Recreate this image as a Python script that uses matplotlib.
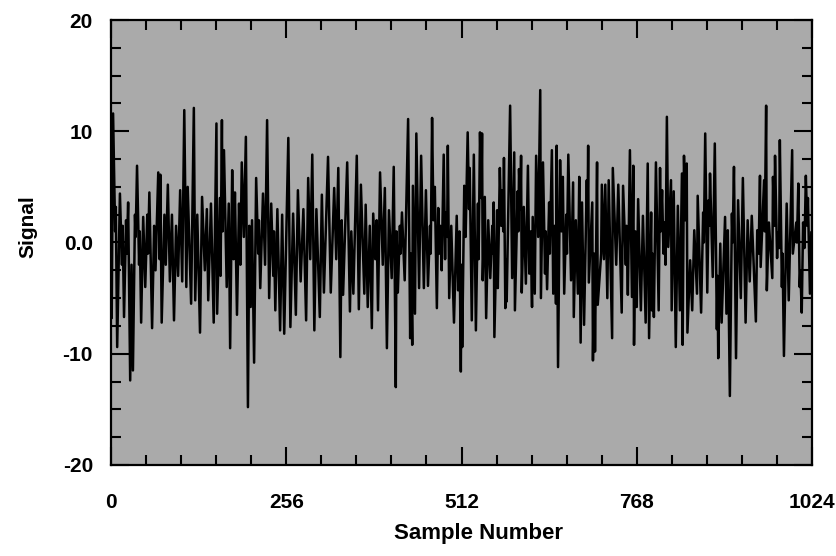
from matplotlib import pyplot as plt
from matplotlib.ticker import MultipleLocator, FixedLocator

# turning points of the trace (sample number, signal), one list per quarter
q1_samples = [0, 1, 3, 6, 7, 9, 13, 16, 17, 19, 22, 23, 25, 28, 30, 32, 35, 36, 38, 41,
              42, 44, 47, 50, 53, 54, 56, 60, 63, 65, 69, 71, 72, 74, 78, 80, 83, 86, 89, 92,
              95, 98, 101, 104, 107, 110, 112, 117, 121, 123, 126, 130, 133, 137, 140, 142, 146, 150, 154, 155,
              159, 160, 162, 163, 165, 169, 172, 174, 177, 179, 181, 184, 187, 189, 191, 194, 197, 200, 202, 204,
              206, 209, 212, 215, 216, 218, 222, 225, 228, 231, 234, 237, 238, 240, 243, 247, 250, 253]
q1_signal = [-5.0, -6.8, 11.6, 1.0, 3.2, -9.4, 4.4, -2.0, 1.5, -6.7, 2.0, -1.0, 3.6, -12.4, -2.0, -11.5, 2.5, 0.5, 6.9, -2.0,
             1.0, -7.2, 2.3, -4.0, 2.5, -1.0, 4.5, -7.7, 1.5, -2.5, 6.3, -1.5, 6.1, -7.2, 2.5, -2.0, 5.2, -3.5, 2.5, -7.0,
             1.5, -3.0, 4.7, -3.5, 11.9, -4.0, 5.0, -5.5, 12.1, -5.2, 2.5, -8.1, 4.1, -2.5, 3.0, -5.2, 3.5, -7.2, 10.7, -6.4,
             4.0, -3.0, 11.0, 1.0, 8.3, -4.0, 3.5, -9.5, 6.5, -1.5, 4.5, -6.5, 3.5, -2.0, 7.2, 0.5, 9.5, -14.8, 1.5, -5.8,
             2.0, -10.8, 5.8, -1.0, 2.0, -4.1, 4.4, -2.0, 11.0, -5.0, 3.5, -3.0, 1.0, -6.1, 3.0, -7.9, 2.5, -8.2]

q2_samples = [259, 262, 266, 270, 273, 277, 281, 285, 288, 291, 294, 297, 300, 305, 308, 311, 317, 321, 326, 329,
              332, 335, 337, 339, 345, 349, 351, 354, 359, 362, 365, 370, 372, 375, 378, 381, 383, 386, 388, 390,
              393, 397, 400, 403, 406, 410, 413, 416, 417, 419, 422, 423, 425, 429, 434, 437, 438, 440, 441, 444,
              446, 450, 453, 457, 460, 463, 466, 467, 469, 471, 473, 476, 478, 480, 481, 483, 486, 488, 489, 491,
              492, 494, 497, 501, 505, 507, 509, 511]
q2_signal = [9.4, -7.6, 2.6, -6.5, 4.7, -3.5, 3.0, -7.0, 5.8, -1.5, 7.9, -7.9, 3.0, -6.7, 4.3, -4.5, 7.7, -4.5, 4.9, -1.5,
             6.7, -10.3, 2.0, -4.7, 7.2, -6.2, 1.0, -4.6, 7.8, -6.0, 5.2, -4.6, 3.4, -5.8, 1.5, -7.7, 2.6, -1.5, 2.0, -6.1,
             6.3, -2.0, 4.9, -9.5, 2.9, -3.2, 6.8, -13.0, 1.0, -4.5, 1.5, -1.0, 2.7, -3.4, 11.1, -8.6, -1.0, -9.2, 5.1, -6.4,
             9.8, -4.1, 7.8, -4.1, 4.7, -3.9, 1.5, -1.0, 11.2, 2.0, 5.0, -5.9, 3.1, -1.0, 1.5, -2.5, 7.9, -1.5, 2.7, 0.5,
             8.7, -5.0, 1.5, -7.2, 2.4, -4.3, 1.0, -11.6]

q3_samples = [512, 513, 516, 518, 521, 523, 524, 527, 530, 533, 536, 537, 539, 541, 542, 543, 546, 548, 551, 554,
              557, 558, 559, 560, 564, 565, 568, 570, 571, 573, 574, 576, 577, 578, 583, 586, 589, 590, 594, 595,
              596, 598, 599, 600, 603, 606, 609, 611, 613, 615, 616, 619, 621, 624, 627, 628, 631, 634, 635, 637,
              640, 641, 644, 646, 648, 650, 651, 653, 656, 658, 660, 662, 665, 666, 668, 672, 675, 676, 679, 682,
              684, 686, 688, 691, 695, 696, 697, 698, 703, 704, 706, 707, 710, 711, 716, 717, 720, 722, 725, 727,
              732, 733, 738, 741, 746, 748, 752, 753, 755, 758, 761, 763, 764, 766]
q3_signal = [-2.0, -9.4, 5.1, 0.5, 9.9, 3.0, 6.7, -7.0, 7.9, -7.9, 3.5, -1.5, 9.9, 4.0, 9.8, -3.4, 4.1, -6.8, 2.0, -3.2,
             1.5, -1.0, 3.6, -8.5, 2.9, -4.1, 6.7, 1.5, 4.7, 1.0, 7.6, -5.9, -1.5, -5.3, 12.3, -3.2, 8.1, -6.1, 4.6, 1.0,
             6.6, 3.0, 7.8, -4.5, 3.2, -3.7, 6.9, -2.8, 1.0, -5.8, 2.3, -4.6, 7.8, 0.5, 13.7, -5.0, 7.2, -2.8, 1.0, -4.2,
             3.6, -1.0, 8.3, -4.6, 1.5, -5.5, 8.7, -11.2, 7.4, 1.0, 5.9, -4.6, 2.5, -1.0, 7.9, -3.4, 5.4, -6.7, 2.0, -4.6,
             5.9, -9.0, 3.6, -7.4, 5.6, 2.0, 8.7, -3.6, 3.6, -10.6, -1.0, -9.8, 7.2, -5.6, -1.0, 5.2, -1.5, 5.2, -5.0, 5.6,
             -8.6, 6.7, -2.0, 5.2, -6.3, 5.1, -2.0, 1.5, -4.7, 8.3, -4.9, 6.9, -9.2, 1.0]

q4_samples = [768, 770, 774, 777, 781, 784, 786, 789, 790, 791, 793, 796, 800, 802, 803, 805, 807, 808, 810, 812,
              814, 818, 819, 822, 825, 828, 831, 834, 835, 837, 839, 841, 842, 846, 849, 852, 856, 857, 862, 865,
              866, 868, 871, 873, 874, 875, 879, 882, 885, 886, 887, 890, 892, 897, 899, 901, 904, 907, 908, 910,
              913, 916, 920, 923, 927, 930, 933, 936, 942, 944, 946, 948, 949, 954, 955, 957, 958, 961, 966, 967,
              969, 970, 973, 974, 976, 977, 980, 981, 983, 987, 990, 995, 996, 1001, 1002, 1004, 1006, 1007, 1009, 1011,
              1013, 1015, 1017, 1018, 1021, 1023]
q4_signal = [-5.8, 3.9, -6.1, 2.4, -7.2, 7.1, -8.6, 2.7, -6.1, -1.0, -6.7, 7.2, -6.1, 6.7, 1.0, 4.7, -1.0, 1.8, -2.0, 11.3,
             -0.4, 5.6, -6.1, 4.6, -9.4, 3.3, -6.1, 6.2, -9.2, 7.8, 2.0, 7.1, -8.1, -1.6, -6.1, 1.1, -4.6, 4.2, -6.3, 2.7,
             0.0, 9.8, -4.5, 3.8, 1.5, 6.2, -3.1, 8.9, -7.8, -3.0, -10.4, -0.1, -7.2, 2.3, -6.4, 1.1, -13.8, 2.6, 0.0, 6.8,
             -10.4, 3.8, -5.0, 5.8, -7.2, 2.0, -3.5, 2.4, -7.1, 1.1, -1.0, 6.0, -2.2, 5.6, 1.0, 12.3, -4.3, 1.8, -3.2, 5.9,
             1.5, 7.8, -1.4, 0.9, -0.5, 9.2, -4.0, -1.0, -10.2, 3.5, -5.2, 8.3, -1.0, 1.8, 0.0, 5.3, -4.0, -2.5, -6.3, 1.8,
             -0.5, 6.0, 1.5, 4.0, -4.6, 0.9]

x_ticks = [0, 256, 512, 768, 1024]
y_ticks = [-20, -10, 0, 10, 20]
y_tick_labels = ['-20', '-10', '0.0', '10', '20']

samples = q1_samples + q2_samples + q3_samples + q4_samples
signal = q1_signal + q2_signal + q3_signal + q4_signal

plt.rcParams['font.family'] = ['Liberation Sans', 'DejaVu Sans']
plt.rcParams['font.weight'] = 'bold'

fig = plt.figure(figsize=(8.36, 5.56), dpi=100)
ax = fig.add_axes([0.1328, 0.1637, 0.8385, 0.8003])
ax.set_facecolor('#aaaaaa')

ax.plot(samples, signal, color='black', linewidth=1.8)

ax.set_xlim(0, 1024)
ax.set_ylim(-20, 20)
ax.xaxis.set_major_locator(FixedLocator(x_ticks))
ax.xaxis.set_minor_locator(MultipleLocator(51.2))
ax.set_yticks(y_ticks)
ax.set_yticklabels(y_tick_labels)
ax.yaxis.set_minor_locator(MultipleLocator(2.5))

ax.tick_params(which='both', direction='in', top=True, right=True, width=1.5, colors='black')
ax.tick_params(which='major', length=13)
ax.tick_params(which='minor', length=7)
ax.tick_params(axis='y', which='major', pad=13, labelsize=15)
ax.tick_params(axis='x', which='major', pad=20, labelsize=15)
for sp in ax.spines.values():
    sp.set_linewidth(1.6)

# axis titles sit a little off-centre in the original
fig.text(478 / 836, 1 - 539 / 556, 'Sample Number', fontsize=16, fontweight='bold',
         ha='center', va='baseline')
fig.text(28 / 836, 1 - 227 / 556, 'Signal', fontsize=15, fontweight='bold',
         ha='center', va='center', rotation=90)

plt.savefig('out.png', dpi=100)
